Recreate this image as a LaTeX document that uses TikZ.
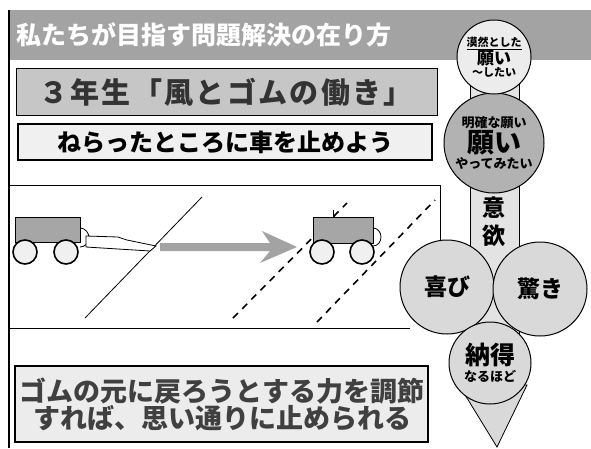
\documentclass[tikz,border=0pt]{standalone}
\usepackage{fontspec}
\setmainfont{Noto Sans CJK JP}
\newcommand{\fsz}[1]{\fontsize{#1}{#1}\selectfont}

\tikzset{
  ball/.style={circle,draw=black,line width=1pt,fill=gray!30,inner sep=0pt,align=center},
  wheel/.style={draw=black,line width=1.6pt,fill=gray!12},
  body/.style={draw=black,thick,fill=gray!70},
  goal/.style={line width=1.6pt,dash pattern=on 7pt off 6pt}
}

\begin{document}
\begin{tikzpicture}[x=1pt,y=-1pt]
  \useasboundingbox (0,0) rectangle (591,448);
  \fill[white] (0,0) rectangle (591,448);

  % heading bar and left frame
  \fill[gray!72] (9,10) rectangle (591,60);
  \draw[line width=1.5pt] (9,10) -- (9,448);
  \node[text=white,font=\fsz{25}\bfseries] (head) at (204,35) {私たちが目指す問題解決の在り方};

  % unit title and aim
  \draw[thick,fill=gray!45] (16,68) rectangle (437,115);
  \node[text=black!80,font=\fsz{29}\bfseries\addfontfeatures{LetterSpace=8}] (unit) at (226,92) {３年生「風とゴムの働き」};
  \draw[line width=1.5pt,fill=gray!12] (18,124) rectangle (432,160);
  \node[font=\fsz{24}\bfseries] (aim) at (225,142) {ねらったところに車を止めよう};

  % experiment panel
  \draw[thick] (9,185) -- (440,185) -- (440,260);
  \draw[thick] (9,328) -- (410,328);
  \draw[thick] (85,318) -- (202,197);
  \draw[goal] (233,318) -- (347,203);
  \draw[goal] (317,322) -- (435,200);

  % car at the start, rubber pulled back
  \draw[body] (15,217) rectangle (80,242);
  \draw[thick] (80,228) to[out=0,in=90] (89,238) to[out=-90,in=0] (80,247);
  \draw[thick,fill=white] (86,236) -- (118,237) -- (127,240) -- (156,246) -- (150,251) -- (86,247) -- cycle;
  \draw[wheel] (25,252) circle (12);
  \draw[wheel] (66,252) circle (12);

  % direction of travel
  \fill[gray!72] (160,243) -- (270,243) -- (262,231) -- (297,247) -- (260,263) -- (270,251) -- (160,251) -- cycle;

  % car stopped between the lines
  \draw[thick] (333,210) -- (333,217);
  \draw[body] (313,217) rectangle (373,243);
  \draw[thick] (373,228) to[out=0,in=90] (381,237) to[out=-90,in=0] (373,246);
  \draw[wheel] (322,252) circle (12);
  \draw[wheel] (362,252) circle (12);

  % conclusion
  \draw[line width=1.5pt,fill=gray!15] (15,366) rectangle (428,442);
  \node[text=black!75,font=\fsz{27}\bfseries,align=center] (result) at (222,404)
    {ゴムの元に戻ろうとする力を調節\\すれば、思い通りに止められる};

  % column of feelings
  \draw[thick,fill=gray!22] (470,60) rectangle (519,345);
  \draw[thick,fill=gray!30] (459,385) -- (527,385) -- (497,447) -- cycle;
  \node[ball,minimum size=94pt] (joy) at (447,287) {\fsz{23}\bfseries 喜び};
  \node[ball,minimum size=94pt] (wonder) at (540,289) {\fsz{23}\bfseries 驚き};
  \node[ball,minimum size=82pt] (agree) at (490,363)
    {\fsz{25}\bfseries 納得\\[2pt]\fsz{13}\bfseries なるほど};
  \node[ball,fill=gray!60,minimum size=100pt] (wish) at (494,143)
    {\fsz{13}\bfseries 明確な願い\\[1pt]\fsz{27}\bfseries 願い\\[1pt]\fsz{13}\bfseries やってみたい};
  \node[ball,fill=gray!15,minimum size=74pt] (vague) at (494,57)
    {\fsz{11}\bfseries\underline{漠然とした}\\\fsz{17}\bfseries 願い\\\fsz{11}\bfseries ～したい};
  \node[font=\fsz{23}\bfseries,align=center] (will) at (494,222) {意\\[5pt]欲};
\end{tikzpicture}
\end{document}
